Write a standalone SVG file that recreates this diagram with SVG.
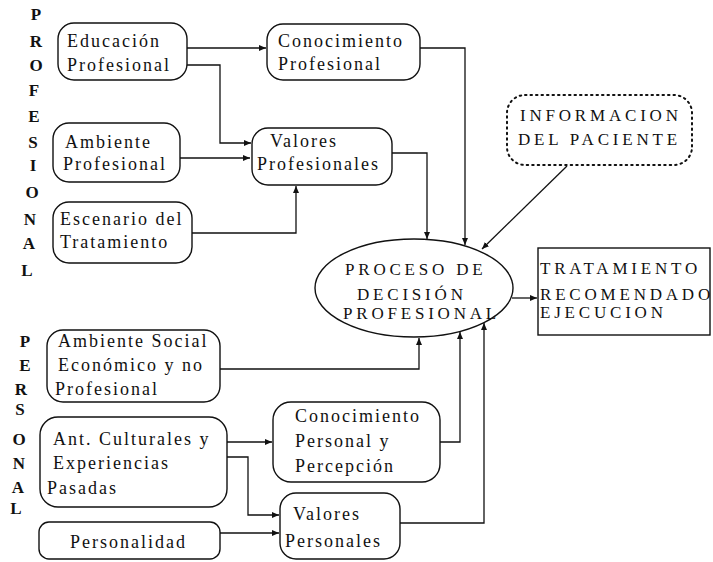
<svg xmlns="http://www.w3.org/2000/svg" width="713" height="562" viewBox="0 0 713 562">
<defs>
<marker id="ah" markerUnits="userSpaceOnUse" markerWidth="8" markerHeight="7" refX="7" refY="3.5" orient="auto">
<path d="M0,0.5 L7,3.5 L0,6.5 Z" fill="#111"/>
</marker>
</defs>
<style>
text{font-family:"Liberation Serif","Times New Roman",serif;fill:#111}
.t{font-size:18px;letter-spacing:2px}
.u{font-size:17px;letter-spacing:3.8px}
.l{font-size:17px;font-weight:bold;text-anchor:middle}
.b{fill:#fff;stroke:#111;stroke-width:1.4}
.d{fill:#fff;stroke:#111;stroke-width:2;stroke-dasharray:1.5 4;stroke-linecap:round}
.c{fill:none;stroke:#111;stroke-width:1.3;marker-end:url(#ah)}
</style>
<rect width="713" height="562" fill="#fff"/>
<g id="side-labels">
<text class="l" x="36" y="20">P</text>
<text class="l" x="36" y="47">R</text>
<text class="l" x="36" y="71">O</text>
<text class="l" x="34" y="96">F</text>
<text class="l" x="34" y="122">E</text>
<text class="l" x="33" y="148">S</text>
<text class="l" x="33" y="171">I</text>
<text class="l" x="32" y="198">O</text>
<text class="l" x="30" y="225">N</text>
<text class="l" x="29" y="249">A</text>
<text class="l" x="27" y="276">L</text>
<text class="l" x="25" y="347">P</text>
<text class="l" x="25" y="371">E</text>
<text class="l" x="21" y="395">R</text>
<text class="l" x="20" y="415">S</text>
<text class="l" x="19" y="445">O</text>
<text class="l" x="19" y="469">N</text>
<text class="l" x="18" y="493">A</text>
<text class="l" x="16" y="514">L</text>
</g>
<g id="connectors">
<path class="c" d="M187,48 H266"/>
<path class="c" d="M187,65 H220 V143 H251"/>
<path class="c" d="M180,158 H250"/>
<path class="c" d="M192,233 H296 V186"/>
<path class="c" d="M420,48 H465 V245"/>
<path class="c" d="M392,153 H427 V239"/>
<path class="c" d="M567,166 L482,249"/>
<path class="c" d="M512,298 H537"/>
<path class="c" d="M220,369 H419 V338"/>
<path class="c" d="M227,442 H272"/>
<path class="c" d="M227,457 H248 V515 H279"/>
<path class="c" d="M220,533 H279"/>
<path class="c" d="M440,442 H460 V332"/>
<path class="c" d="M400,523 H484 V323"/>
</g>
<g id="educacion-profesional">
<rect class="b" x="58" y="23" width="129" height="57" rx="16"/>
<text class="t" x="67" y="47">Educación</text>
<text class="t" x="67" y="71">Profesional</text>
</g>
<g id="conocimiento-profesional">
<rect class="b" x="267" y="24" width="153" height="56" rx="16"/>
<text class="t" x="278" y="47">Conocimiento</text>
<text class="t" x="278" y="70">Profesional</text>
</g>
<g id="ambiente-profesional">
<rect class="b" x="53" y="123" width="127" height="59" rx="16"/>
<text class="t" x="65" y="148">Ambiente</text>
<text class="t" x="63" y="170">Profesional</text>
</g>
<g id="valores-profesionales">
<rect class="b" x="252" y="128" width="140" height="57" rx="16"/>
<text class="t" x="270" y="147">Valores</text>
<text class="t" x="257" y="170">Profesionales</text>
</g>
<g id="escenario-tratamiento">
<rect class="b" x="53" y="202" width="139" height="61" rx="16"/>
<text class="t" x="60" y="225">Escenario del</text>
<text class="t" x="60" y="248">Tratamiento</text>
</g>
<g id="informacion-paciente">
<rect class="d" x="507" y="95" width="185" height="70" rx="18"/>
<text class="u" x="520" y="121">INFORMACION</text>
<text class="u" x="518" y="145">DEL PACIENTE</text>
</g>
<g id="proceso-decision">
<ellipse class="b" cx="414" cy="288" rx="99" ry="49"/>
<text class="u" x="345" y="275">PROCESO DE</text>
<text class="u" x="357" y="300">DECISIÓN</text>
<text class="u" x="343" y="319">PROFESIONAL</text>
</g>
<g id="tratamiento">
<rect class="b" x="538" y="248" width="172" height="87"/>
<text class="u" x="540" y="274">TRATAMIENTO</text>
<text class="u" x="540" y="300">RECOMENDADO</text>
<text class="u" x="540" y="318">EJECUCION</text>
</g>
<g id="ambiente-social">
<rect class="b" x="47" y="330" width="173" height="72" rx="16"/>
<text class="t" x="58" y="347">Ambiente Social</text>
<text class="t" x="58" y="371">Económico y no</text>
<text class="t" x="55" y="395">Profesional</text>
</g>
<g id="antecedentes-culturales">
<rect class="b" x="40" y="417" width="187" height="90" rx="18"/>
<text class="t" x="53" y="445">Ant. Culturales y</text>
<text class="t" x="53" y="469">Experiencias</text>
<text class="t" x="47" y="494">Pasadas</text>
</g>
<g id="personalidad">
<rect class="b" x="39" y="522" width="181" height="37" rx="10"/>
<text class="t" x="70" y="548">Personalidad</text>
</g>
<g id="conocimiento-personal">
<rect class="b" x="273" y="402" width="167" height="80" rx="18"/>
<text class="t" x="295" y="422">Conocimiento</text>
<text class="t" x="295" y="447">Personal y</text>
<text class="t" x="295" y="472">Percepción</text>
</g>
<g id="valores-personales">
<rect class="b" x="280" y="493" width="120" height="66" rx="16"/>
<text class="t" x="293" y="520">Valores</text>
<text class="t" x="285" y="547">Personales</text>
</g>
</svg>
